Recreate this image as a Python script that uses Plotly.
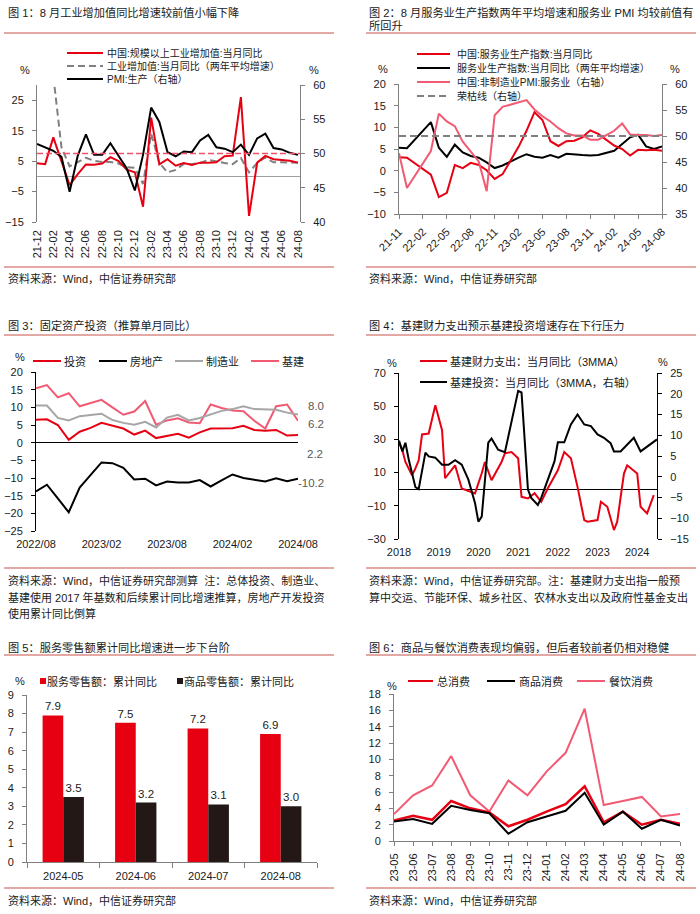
import plotly.graph_objects as go

W, H = 700, 914
FONT = "Liberation Sans, Arial, Noto Sans CJK SC, sans-serif"
TXT = "#1a1a1a"
RED = "#E60012"
PINK = "#F25A73"
GREY = "#A6A6A6"
DGREY = "#808080"
BLK = "#000000"
BARBLK = "#231815"
RULE = "#C8504B"
AXG = "#808080"
LBL = "#595959"

# ---------------- Fig 1 data ----------------
months1 = ["21-12", "22-01", "22-02", "22-03", "22-04", "22-05", "22-06", "22-07", "22-08", "22-09",
           "22-10", "22-11", "22-12", "23-01", "23-02", "23-03", "23-04", "23-05", "23-06", "23-07",
           "23-08", "23-09", "23-10", "23-11", "23-12", "24-01", "24-02", "24-03", "24-04", "24-05",
           "24-06", "24-07", "24-08"]
iva_yoy = [4.3, 4.0, 12.8, 5.0, -2.9, 0.7, 3.9, 3.8, 4.2, 6.3, 5.0, 2.2, 1.3, -10.0, 19.3, 3.9, 5.6,
           3.5, 4.4, 3.7, 4.5, 4.5, 4.6, 6.6, 6.8, 26.0, -13.0, 4.5, 6.7, 5.6, 5.3, 5.1, 4.5]
iva_2y = [None, None, 33.0, 9.5, 3.3, 4.7, 6.1, 5.1, 4.7, 4.7, 4.2, 3.0, 2.8, -2.5, 14.0, 4.4, 1.3,
          2.1, 4.1, 4.0, 4.4, 5.4, 4.8, 4.4, 4.0, 6.0, 1.3, 4.4, 6.2, 4.6, 4.6, 4.5, 4.5]
pmi_prod = [51.4, 50.9, 50.4, 49.5, 44.4, 49.7, 52.8, 49.8, 49.8, 51.5, 49.6, 47.8, 44.6, 49.8, 56.7,
            54.6, 50.2, 49.6, 50.3, 50.2, 51.9, 52.7, 50.9, 50.7, 50.2, 51.3, 49.8, 52.2, 52.9, 50.8,
            50.6, 50.1, 49.8]
LINE50 = 50

# ---------------- Fig 2 data ----------------
months2 = ["21-11", "21-12", "22-01", "22-02", "22-03", "22-04", "22-05", "22-06", "22-07", "22-08",
           "22-09", "22-10", "22-11", "22-12", "23-01", "23-02", "23-03", "23-04", "23-05", "23-06",
           "23-07", "23-08", "23-09", "23-10", "23-11", "23-12", "24-01", "24-02", "24-03", "24-04",
           "24-05", "24-06", "24-07", "24-08"]
svc_yoy = [3.1, 3.0, None, None, -0.9, -6.1, -5.1, 1.3, 0.6, 1.8, 1.3, 0.1, -1.9, -0.8, None, 5.5, 9.2,
           13.5, 11.7, 6.8, 5.7, 6.8, 6.9, 7.7, 9.3, 8.5, None, 5.8, 5.0, 3.5, 4.8, 4.7, 4.8, 4.6]
svc_2y = [5.3, 5.2, None, None, 11.2, 5.3, 3.2, 6.0, 4.2, 3.4, 3.0, 1.9, 0.6, 1.2, None, 3.0, 3.8,
          3.2, 3.0, 3.6, 3.0, 3.9, 3.7, 3.6, 3.5, 3.6, None, 4.6, 6.2, 7.7, 8.3, 5.6, 5.0, 5.6]
svc_pmi = [46.7, 40.0, None, None, 47.1, 54.3, 52.8, 51.9, 48.9, 47.0, 45.1, 39.4, 54.0, 55.6, None,
           None, 56.9, 55.1, 53.8, 52.8, 51.5, 50.5, 50.1, 50.1, 49.3, 49.3, 50.1, 51.0, 52.4, 50.3,
           50.2, 50.2, 50.0, 50.2]
rongku = [50] * len(months2)

# ---------------- Fig 3 data ----------------
months3 = ["2022/08", "2022/09", "2022/10", "2022/11", "2022/12", "2023/01", "2023/02", "2023/03",
           "2023/04", "2023/05", "2023/06", "2023/07", "2023/08", "2023/09", "2023/10", "2023/11",
           "2023/12", "2024/01", "2024/02", "2024/03", "2024/04", "2024/05", "2024/06", "2024/07",
           "2024/08"]
fai = [6.5, 6.6, 5.0, 0.8, 3.1, 4.2, 5.6, 4.8, 4.0, 2.3, 3.4, 1.3, 2.0, 2.5, 1.4, 2.9, 4.0, 4.1, 4.1,
       4.8, 3.6, 3.4, 3.6, 2.0, 2.2]
realestate = [-13.8, -11.9, -15.8, -19.7, -12.7, -9.0, -5.6, -5.8, -7.1, -10.4, -10.2, -12.1, -11.0,
              -11.3, -11.3, -10.6, -12.4, -10.7, -9.0, -10.0, -10.5, -11.0, -10.1, -10.9, -10.2]
manuf = [10.5, 10.5, 7.0, 6.3, 7.5, 7.8, 8.2, 6.4, 5.6, 5.1, 5.9, 4.3, 7.1, 7.9, 6.3, 7.0, 8.0, 9.0,
         9.5, 10.3, 9.5, 9.4, 9.3, 8.5, 8.0]
infra = [15.4, 16.3, 12.8, 14.0, 10.3, 11.2, 12.1, 10.0, 7.9, 8.8, 11.8, 5.1, 6.3, 6.9, 5.7, 5.5, 10.8,
         9.8, 9.1, 8.9, 6.2, 4.0, 10.3, 10.8, 6.2]
tick3 = ["2022/08", "2023/02", "2023/08", "2024/02", "2024/08"]

# ---------------- Fig 4 data ----------------
fis_dates = ["2018-01", "2018-02", "2018-03", "2018-05", "2018-06", "2018-07", "2018-08", "2018-10",
             "2018-12", "2019-02", "2019-03", "2019-06", "2019-08", "2019-12", "2020-02", "2020-03",
             "2020-05", "2020-08", "2020-09", "2020-11", "2021-01", "2021-02", "2021-04", "2021-06",
             "2021-08", "2021-10", "2022-01", "2022-03", "2022-05", "2022-07", "2022-09", "2022-10",
             "2023-01", "2023-02", "2023-04", "2023-06", "2023-07", "2023-09", "2023-10", "2024-01",
             "2024-02", "2024-04", "2024-06"]
fis_exp = [28, 23.5, 16.4, 8.4, 12.5, 17.4, 33, 33.5, 50.6, 35.5, 6.6, 14.4, 0.4, -2.5, 9.6, 16.4,
           5.4, 16.4, 21.6, 22.4, 18.6, -4.6, -5.6, -2.4, -7.6, 0.6, 11.4, 22.4, 18.6, 1.4, -18.6,
           -19.6, -18.6, -7.6, -10.6, -24.6, -19.6, 9.4, 14.4, 9.4, -10.6, -14.6, -3.6]
inf_dates = ["2018-01", "2018-02", "2018-03", "2018-04", "2018-06", "2018-07", "2018-09", "2018-10",
             "2018-12", "2019-02", "2019-04", "2019-06", "2019-08", "2019-10", "2019-12", "2020-01",
             "2020-02", "2020-04", "2020-05", "2020-07", "2020-09", "2021-01", "2021-02", "2021-04",
             "2021-05", "2021-07", "2021-08", "2021-10", "2021-12", "2022-01", "2022-03", "2022-05",
             "2022-07", "2022-09", "2022-11", "2023-01", "2023-03", "2023-05", "2023-06", "2023-08",
             "2023-10", "2023-12", "2024-02", "2024-04", "2024-07"]
inf_inv = [8.7, 6.1, 8.2, 4.1, -2.5, -3.0, 5.8, 4.9, 4.6, 2.9, 2.9, 4.0, 2.9, -0.7, -6.3, -10.8, -9.6,
           8.2, 9.2, 6.5, 5.9, 20.7, 20.3, -3.1, -5.1, -6.8, -5.1, -0.7, 3.7, 8.3, 8.3, 12.6, 15.0,
           12.6, 12.2, 10.2, 9.4, 8.1, 6.1, 6.1, 7.7, 9.4, 6.1, 7.3, 9.0]
years4 = ["2018", "2019", "2020", "2021", "2022", "2023", "2024"]

# ---------------- Fig 5 data ----------------
cats5 = ["2024-05", "2024-06", "2024-07", "2024-08"]
svc_retail = [7.9, 7.5, 7.2, 6.9]
goods_retail = [3.5, 3.2, 3.1, 3.0]

# ---------------- Fig 6 data ----------------
months6 = ["23-05", "23-06", "23-07", "23-08", "23-09", "23-10", "23-11", "23-12", "24-01", "24-02",
           "24-03", "24-04", "24-05", "24-06", "24-07", "24-08"]
cons_total = [2.5, 3.1, 2.6, 4.9, 4.0, 3.5, 1.8, 2.6, 3.6, 4.5, 6.7, 2.3, 3.6, 2.0, 2.6, 2.1]
cons_goods = [2.4, 2.7, 2.1, 4.3, 3.8, 3.4, 0.9, 2.3, 3.0, 3.7, 5.9, 2.0, 3.6, 1.5, 2.6, 1.9]
cons_cater = [3.3, 5.6, 6.8, 10.4, 5.6, 3.6, 7.4, 5.6, 8.5, 10.8, 16.2, 4.4, 4.9, 5.4, 3.0, 3.3]

# ---------------- helpers ----------------
shapes, annots = [], []


def xd(a, b):
    return [a / W, b / W]


def yd(top, bot):
    return [1 - bot / H, 1 - top / H]


def txt(x, y, s, size=11, color=TXT, xanchor="left"):
    annots.append(dict(xref="paper", yref="paper", x=x / W, y=1 - y / H, text=s, showarrow=False,
                       xanchor=xanchor, yanchor="middle", borderpad=0,
                       font=dict(family=FONT, size=size, color=color)))


def hline(x0, x1, y, color, width=1, dash=None):
    shapes.append(dict(type="line", xref="paper", yref="paper", x0=x0 / W, x1=x1 / W,
                       y0=1 - y / H, y1=1 - y / H, line=dict(color=color, width=width, dash=dash)))


def square(x, y, s, color):
    shapes.append(dict(type="rect", xref="paper", yref="paper", x0=x / W, x1=(x + s) / W,
                       y0=1 - (y + s / 2) / H, y1=1 - (y - s / 2) / H, fillcolor=color,
                       line=dict(width=0)))


def yaxis(color, rng, tickvals, **kw):
    d = dict(range=rng, tickvals=tickvals, showgrid=False, showline=True, linecolor=color,
             linewidth=1, ticks="outside", ticklen=4, tickcolor=color, zeroline=False,
             automargin=False, tickfont=dict(family=FONT, size=11, color=TXT),
             ticklabelstandoff=6, fixedrange=True)
    d.update(kw)
    return d


def xcat(cats, domain, anchor, **kw):
    d = dict(type="category", categoryorder="array", categoryarray=cats, domain=domain,
             anchor=anchor, showgrid=False, zeroline=False, showline=False, ticks="",
             automargin=False, tickfont=dict(family=FONT, size=11, color=TXT), fixedrange=True)
    d.update(kw)
    return d


fig = go.Figure()


def line(x, y, xa, ya, color, width=2, dash=None, gaps=False):
    fig.add_trace(go.Scatter(x=x, y=y, xaxis=xa, yaxis=ya, mode="lines", connectgaps=gaps,
                             line=dict(color=color, width=width, dash=dash), hoverinfo="skip",
                             showlegend=False))


# ---------------- Fig 1 ----------------
line(months1, iva_2y, "x", "y", DGREY, 2, "7px,4px")
line(months1, pmi_prod, "x", "y2", BLK, 2)
line(months1, iva_yoy, "x", "y", RED, 2)
shapes.append(dict(type="line", xref="x domain", x0=0, x1=1, yref="y2", y0=LINE50, y1=LINE50,
                   line=dict(color="#F0506A", width=1.5, dash="6px,3px")))

txt(7, 12, "图 1：8 月工业增加值同比增速较前值小幅下降", 11.2)
hline(4, 334, 33, RULE)
for yy, col, dsh, label in [(53, RED, None, "中国:规模以上工业增加值:当月同比"),
                            (66, DGREY, "7px,4px", "工业增加值:当月同比（两年平均增速）"),
                            (79, BLK, None, "PMI:生产（右轴）")]:
    hline(67, 103, yy, col, 2, dsh)
    txt(106, yy, label, 10)
txt(25, 70, "%", 11, xanchor="center")
txt(314, 70, "%", 11, xanchor="center")
hline(4, 334, 267, RULE)
txt(7, 278, "资料来源：Wind，中信证券研究部", 11)

# ---------------- Fig 2 ----------------
line(months2, svc_pmi, "x2", "y4", PINK, 2, gaps=True)
line(months2, svc_2y, "x2", "y3", BLK, 2, gaps=True)
line(months2, svc_yoy, "x2", "y3", RED, 2, gaps=True)
line(months2, rongku, "x2", "y4", DGREY, 2, "7px,4px")

txt(368, 12, "图 2：8 月服务业生产指数两年平均增速和服务业 PMI 均较前值有", 11.2)
txt(368, 26, "所回升", 11.2)
hline(366, 696, 33, RULE)
for yy, col, dsh, label in [(54, RED, None, "中国:服务业生产指数:当月同比"),
                            (68, BLK, None, "服务业生产指数:当月同比（两年平均增速）"),
                            (82, PINK, None, "中国:非制造业PMI:服务业（右轴）"),
                            (96, DGREY, "7px,4px", "荣枯线（右轴）")]:
    hline(417, 450, yy, col, 2, dsh)
    txt(456, yy, label, 10)
txt(383, 69, "%", 11, xanchor="center")
txt(675, 69, "%", 11, xanchor="center")
hline(366, 696, 267, RULE)
txt(368, 278, "资料来源：Wind，中信证券研究部", 11)

# ---------------- Fig 3 ----------------
line(months3, infra, "x3", "y5", PINK, 2)
line(months3, manuf, "x3", "y5", GREY, 2)
line(months3, fai, "x3", "y5", RED, 2)
line(months3, realestate, "x3", "y5", BLK, 2)

txt(7, 326, "图 3：固定资产投资（推算单月同比）", 11.2)
hline(4, 334, 335, RULE)
for x0, col, label in [(33, RED, "投资"), (99, BLK, "房地产"), (175, GREY, "制造业"), (251, PINK, "基建")]:
    hline(x0, x0 + 28, 361, col, 2)
    txt(x0 + 30, 361, label, 11)
txt(20, 357, "%", 11, xanchor="center")
hline(4, 334, 568, RULE)
txt(7, 580, "资料来源：Wind，中信证券研究部测算  注：总体投资、制造业、", 11)
txt(7, 597, "基建使用 2017 年基数和后续累计同比增速推算，房地产开发投资", 11)
txt(7, 613, "使用累计同比倒算", 11)
last3 = months3[-1]
for val, ax, ay in [(manuf[-1], 18, -8), (infra[-1], 18, 3)]:
    annots.append(dict(xref="x3", yref="y5", x=last3, y=val, text=f"{val:.1f}", showarrow=False,
                       xshift=ax, yshift=-ay, xanchor="center", yanchor="middle",
                       font=dict(family=FONT, size=11.5, color=LBL)))
for val, ax, ay in [(fai[-1], 17, 19), (realestate[-1], 13, 4)]:
    annots.append(dict(xref="x3", yref="y5", x=last3, y=val, text=f"{val:.1f}", showarrow=True,
                       arrowhead=0, arrowwidth=1, arrowcolor="#A0A0A0", ax=ax, ay=ay,
                       xanchor="center", yanchor="middle",
                       font=dict(family=FONT, size=11.5, color=LBL)))

# ---------------- Fig 4 ----------------
line(inf_dates, inf_inv, "x4", "y7", BLK, 2)
line(fis_dates, fis_exp, "x4", "y6", RED, 2)

txt(368, 326, "图 4：基建财力支出预示基建投资增速存在下行压力", 11.2)
hline(366, 696, 335, RULE)
for yy, col, label in [(361, RED, "基建财力支出：当月同比（3MMA）"),
                       (382, BLK, "基建投资：当月同比（3MMA，右轴）")]:
    hline(420, 447, yy, col, 2)
    txt(449, yy, label, 11)
txt(392, 363, "%", 11, xanchor="center")
txt(663, 362, "%", 11, xanchor="center")
hline(366, 696, 568, RULE)
txt(368, 580, "资料来源：Wind，中信证券研究部。注：基建财力支出指一般预", 11)
txt(368, 597, "算中交运、节能环保、城乡社区、农林水支出以及政府性基金支出", 11)

# ---------------- Fig 5 ----------------
fig.add_trace(go.Bar(x=cats5, y=svc_retail, xaxis="x5", yaxis="y8", marker_color=RED,
                     texttemplate="%{y:.1f}", textposition="outside", cliponaxis=False,
                     textfont=dict(family=FONT, size=11.5, color=TXT), hoverinfo="skip",
                     showlegend=False))
fig.add_trace(go.Bar(x=cats5, y=goods_retail, xaxis="x5", yaxis="y8", marker_color=BARBLK,
                     texttemplate="%{y:.1f}", textposition="outside", cliponaxis=False,
                     textfont=dict(family=FONT, size=11.5, color=TXT), hoverinfo="skip",
                     showlegend=False))

txt(7, 647, "图 5：服务零售额累计同比增速进一步下台阶", 11.2)
hline(4, 334, 655, RULE)
txt(20, 681, "%", 11, xanchor="center")
square(40, 681, 6, RED)
txt(46, 681, "服务零售额：累计同比", 11)
square(177, 681, 6, BARBLK)
txt(183, 681, "商品零售额：累计同比", 11)
hline(4, 334, 888, RULE)
txt(7, 900, "资料来源：Wind，中信证券研究部", 11)

# ---------------- Fig 6 ----------------
line(months6, cons_cater, "x6", "y9", PINK, 2)
line(months6, cons_total, "x6", "y9", RED, 2.5)
line(months6, cons_goods, "x6", "y9", BLK, 2)

txt(368, 647, "图 6：商品与餐饮消费表现均偏弱，但后者较前者仍相对稳健", 11.2)
hline(366, 696, 655, RULE)
for x0, x1, col, label in [(408, 433, RED, "总消费"), (487, 515, BLK, "商品消费"),
                           (577, 605, PINK, "餐饮消费")]:
    hline(x0, x1, 681, col, 2)
    txt(x1 + 3, 681, label, 11)
txt(392, 686, "%", 11, xanchor="center")
hline(366, 696, 888, RULE)
txt(368, 900, "资料来源：Wind，中信证券研究部", 11)

# ---------------- axes ----------------
layout_axes = dict(
    xaxis=xcat(months1, xd(37, 300), "y", range=[0, 32.25], tickvals=months1[::2], tickangle=-90,
               ticklabelstandoff=5),
    yaxis=yaxis(AXG, [-15, 30], [-15, -5, 5, 15, 25], domain=yd(85, 222), anchor="x",
                zeroline=True, zerolinecolor="#A0A0A0", zerolinewidth=1),
    yaxis2=yaxis(AXG, [40, 60], [40, 45, 50, 55, 60], overlaying="y", side="right", anchor="x"),

    xaxis2=xcat(months2, xd(399, 662), "y3", range=[0, 33], tickvals=months2[::3], tickangle=-45,
                showline=True, linecolor=AXG, ticks="outside", ticklen=4, tickcolor=AXG,
                ticklabelstandoff=2),
    yaxis3=yaxis(AXG, [-10, 20], [-10, -5, 0, 5, 10, 15, 20], domain=yd(84, 214), anchor="x2"),
    yaxis4=yaxis(AXG, [35, 60], [35, 40, 45, 50, 55, 60], overlaying="y3", side="right",
                 anchor="x2"),

    xaxis3=xcat(months3, xd(36, 298), "y5", range=[0, 24], tickvals=tick3, tickangle=0,
                ticklabelstandoff=5),
    yaxis5=yaxis(BLK, [-25, 20], [-25, -20, -15, -10, -5, 0, 5, 10, 15, 20], domain=yd(372, 531),
                 anchor="x3", zeroline=True, zerolinecolor=BLK, zerolinewidth=1),

    xaxis4=dict(type="date", domain=xd(399, 657), anchor="y6", range=["2018-01-01", "2024-07-01"],
                tickvals=[y + "-01-01" for y in years4], ticktext=years4, showgrid=False,
                showline=False, zeroline=False, ticks="", tickangle=0, fixedrange=True,
                automargin=False, ticklabelstandoff=5,
                tickfont=dict(family=FONT, size=11, color=TXT)),
    yaxis6=yaxis(BLK, [-30, 70], [-30, -10, 10, 30, 50, 70], domain=yd(373, 539), anchor="x4",
                 zeroline=True, zerolinecolor=BLK, zerolinewidth=1),
    yaxis7=yaxis(BLK, [-15, 25], [-15, -10, -5, 0, 5, 10, 15, 20, 25], overlaying="y6",
                 side="right", anchor="x4"),

    xaxis5=xcat(cats5, xd(27, 317), "y8", showline=True, linecolor=AXG, ticks="outside",
                ticklen=5, tickcolor=AXG, tickson="boundaries", tickangle=0, ticklabelstandoff=4),
    yaxis8=yaxis(AXG, [0, 9], list(range(0, 10)), domain=yd(695, 862), anchor="x5"),

    xaxis6=xcat(months6, xd(394, 680), "y9", range=[0, 15], tickangle=-90, showline=True,
                linecolor=AXG, ticks="outside", ticklen=4, tickcolor=AXG, ticklabelstandoff=3),
    yaxis9=yaxis(AXG, [0, 18], list(range(0, 19, 2)), domain=yd(694, 841), anchor="x6"),
)

fig.update_layout(
    template="none",
    width=W, height=H, margin=dict(l=0, r=0, t=0, b=0, pad=0), autosize=False,
    paper_bgcolor="white", plot_bgcolor="white", showlegend=False,
    barmode="group", bargap=0.43, bargroupgap=0,
    font=dict(family=FONT, size=11, color=TXT),
    shapes=shapes, annotations=annots, **layout_axes,
)

fig.write_html("out.html", config={"displayModeBar": False, "staticPlot": True},
               post_script="document.body.style.margin='0';")
